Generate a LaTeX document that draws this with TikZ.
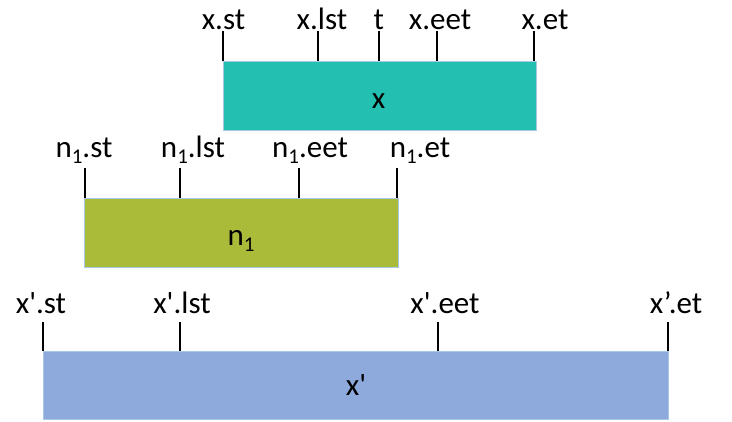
\documentclass[tikz,border=0pt]{standalone}
\usepackage{fontspec}
\setmainfont{Carlito}[Ligatures=TeXOff]
\definecolor{boxx}{RGB}{35,191,176}
\definecolor{boxn}{RGB}{170,187,58}
\definecolor{boxxp}{RGB}{142,169,219}
\definecolor{rim}{RGB}{168,200,232}
% lowered subscript one in the text font
\newcommand\subone{\raisebox{-0.2em}{\fontsize{21}{21}\selectfont 1}}
\begin{document}
\begin{tikzpicture}[x=1pt,y=-1pt,
  bar/.style={draw=rim,line width=0.8pt,anchor=north west,inner sep=0pt,minimum height=69pt},
  tick/.style={line width=2pt,black},
  lab/.style={anchor=base,inner sep=0pt,font=\fontsize{31}{34}\selectfont}]
\useasboundingbox (0,0) rectangle (732,421);

% interval x
\node[bar,fill=boxx,minimum width=313pt] (bx) at (223,61) {};
\node[lab] (bxl) at (378.7,108) {x};
\foreach \n/\px/\lx/\t in {xst/223/223.5/x.st, xlst/318/322/x.lst, xt/378.7/378.7/t, xeet/437.3/440/x.eet, xet/534/545/x.et}{
  \coordinate (\n) at (\px,31);
  \draw[tick] (\n) -- (\n |- bx.north);
  \node[lab] (l\n) at (\lx,29) {\t};
}

% interval n1
\node[bar,fill=boxn,minimum width=313.4pt] (bn) at (84.3,198.3) {};
\node[lab] (bnl) at (241,245) {n\subone};
\foreach \n/\px/\lx/\t in {nst/85/84/st, nlst/180/193/lst, neet/299.3/310/eet, net/396.7/420/et}{
  \coordinate (\n) at (\px,168.3);
  \draw[tick] (\n) -- (\n |- bn.north);
  \node[lab] (l\n) at (\lx,157) {n\subone.\t};
}

% interval x'
\node[bar,fill=boxxp,minimum width=625pt,minimum height=68pt] (bp) at (43,351) {};
\node[lab] (bpl) at (356,395) {x'};
\foreach \n/\px/\lx/\t in {pst/43/41/x'.st, plst/180/182/x'.lst, peet/437.5/445/x'.eet, pet/668/676/x’.et}{
  \coordinate (\n) at (\px,322);
  \draw[tick] (\n) -- (\n |- bp.north);
  \node[lab] (l\n) at (\lx,313) {\t};
}
\end{tikzpicture}
\end{document}
